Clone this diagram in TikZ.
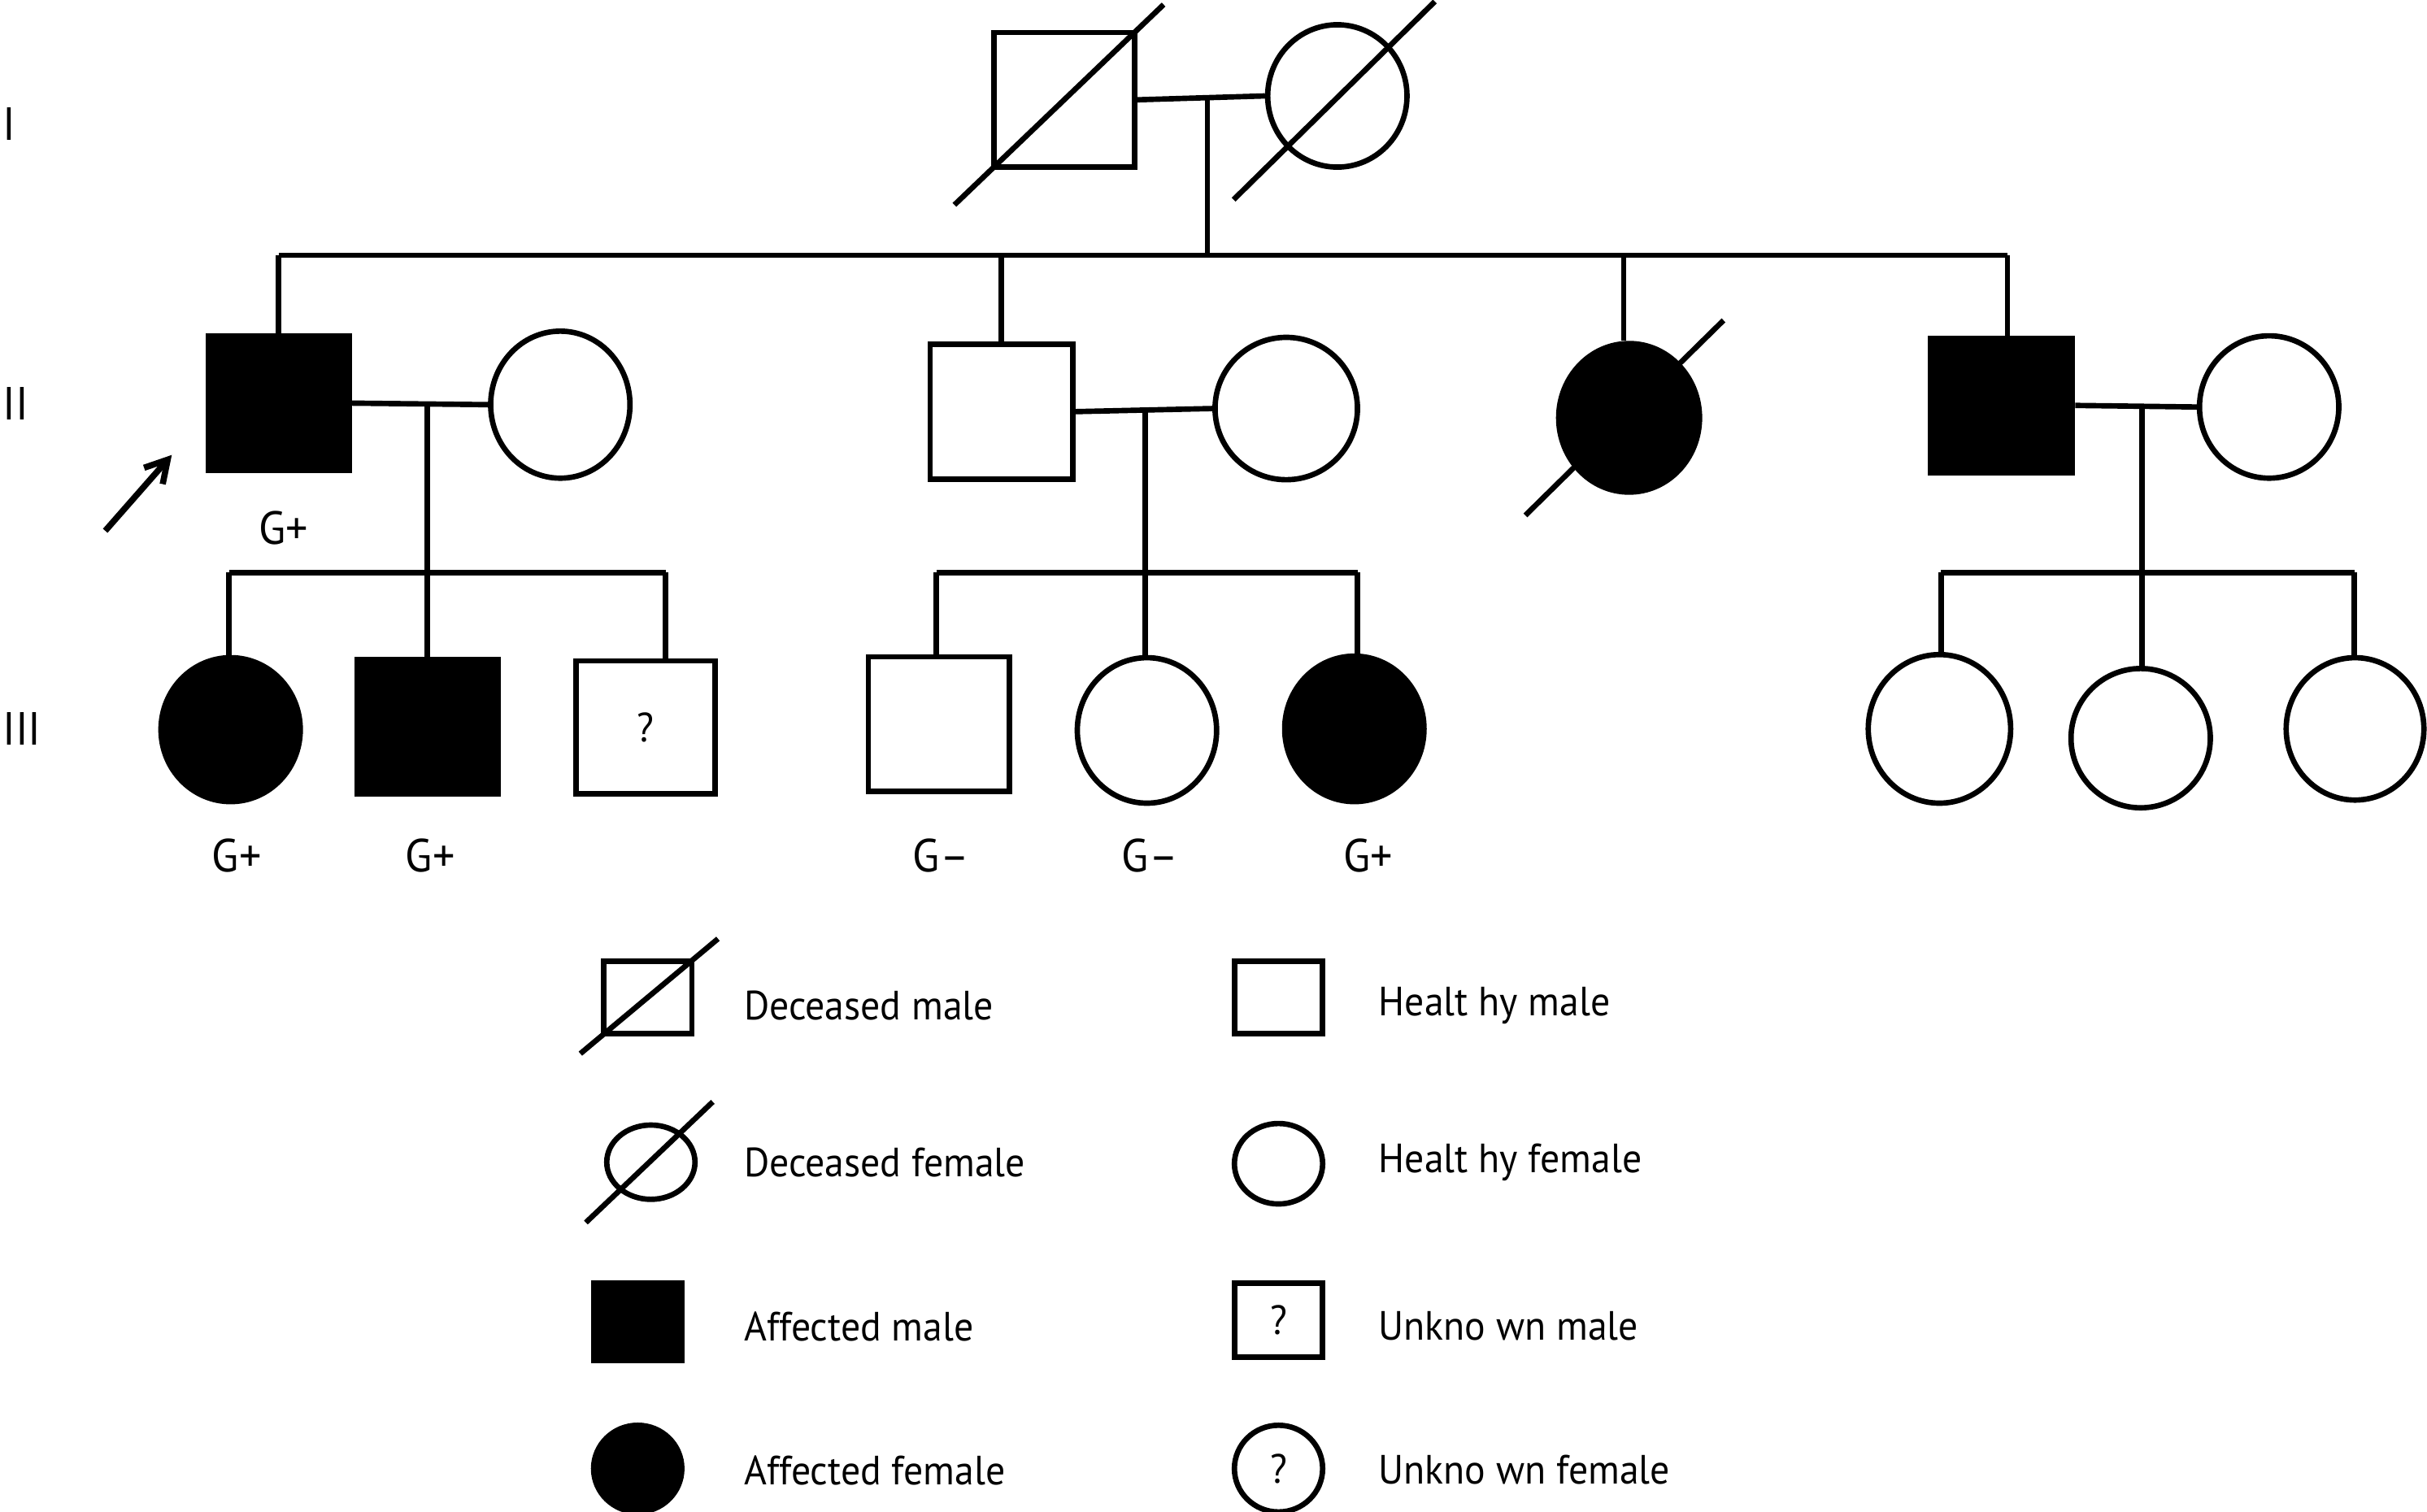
\documentclass[tikz,border=0pt]{standalone}
\usepackage{fontspec}
\setmainfont{PT Sans}[FakeStretch=0.95]
\usetikzlibrary{shapes.geometric,arrows.meta,calc}
\begin{document}
\begin{tikzpicture}[x=0.5pt,y=-0.5pt,line width=1.75pt,
  male/.style={draw,rectangle,minimum width=45.5pt,minimum height=43.5pt,inner sep=0pt},
  female/.style={draw,ellipse,minimum width=45pt,minimum height=46.5pt,inner sep=0pt},
  aff/.style={fill=black},
  lmale/.style={draw,rectangle,minimum width=28.5pt,minimum height=23.5pt,inner sep=0pt},
  lfemale/.style={draw,ellipse,minimum width=28.5pt,minimum height=25pt,inner sep=0pt},
  lbl/.style={font=\fontsize{13.2pt}{15pt}\selectfont,inner sep=0pt},
  glbl/.style={font=\fontsize{15pt}{17pt}\selectfont,inner sep=0pt},
  ltext/.style={lbl,anchor=west},
  gen/.style={font=\fontsize{15pt}{17pt}\selectfont,inner sep=0pt,anchor=west},
  slash/.style={line width=1.75pt}]
\useasboundingbox (0,0) rectangle (1568,977);

% generation labels
\node[gen] (gI) at (0,80) {I};
\node[gen] (gII) at (0,261) {II};
\node[gen] (gIII) at (0,471) {III};

% generation I
\node[male] (I1) at (687.5,64.5) {};
\node[female,minimum height=46pt] (I2) at (864,62) {};
\draw[slash] ($(I1.south west)!-0.25!(I1.north east)$) -- ($(I1.south west)!1.18!(I1.north east)$);
\draw[slash] ($(I2.center)+(-67,67)$) -- ($(I2.center)+(63,-61)$);
\coordinate (m1) at (780,63);
\coordinate (s1) at (780,165);
\coordinate (sL) at (180,165);
\coordinate (sR) at (1297,165);
\coordinate (sB) at (647,165);
\coordinate (sC) at (1049,165);
\draw (I1.east) -- (I2.west);
\draw (m1) -- (s1);
\draw (sL) -- (sR);

% generation II
\node[male,aff] (II1) at (180,260.5) {};
\node[female,minimum height=47.5pt] (II1s) at (362,261.5) {};
\node[male,minimum width=46pt] (II2) at (647,266) {};
\node[female,minimum width=46pt,minimum height=46pt] (II2s) at (831,264) {};
\node[female,aff,minimum width=45.5pt,minimum height=48pt] (II3) at (1052.5,270) {};
\node[male,aff,minimum width=46pt] (II4) at (1293,262) {};
\node[female,minimum height=46pt] (II4s) at (1466,263) {};
\draw[slash] ($(II3.center)+(-67,63)$) -- ($(II3.center)+(61,-63)$);
\draw (sL) -- (II1.north);
\draw (sB) -- (sB |- II2.north);
\draw (sC) -- (sC |- II3.north);
\draw (sR) -- (sR |- II4.north);

\node[glbl] (gp1) at (183,341) {G+};
\coordinate (arrS) at (68,343);
\coordinate (arrE) at (111,294);
\draw[line width=2pt,-{Straight Barb[length=7pt,width=8pt]}] (arrS) -- (arrE);

% family of II1
\draw (II1.east) -- (II1s.west);
\coordinate (a1) at (276,261);
\coordinate (a2) at (276,370);
\coordinate (aL) at (148,370);
\coordinate (aR) at (430,370);
\draw (a1) -- (a2);
\draw (aL) -- (aR);
\node[female,aff] (III1) at (149,471.5) {};
\node[male,aff] (III2) at (276.5,469.5) {};
\node[male,minimum width=45pt,minimum height=43pt] (III3) at (417,470) {};
\node[lbl] (q1) at (III3.center) {?};
\draw (aL) -- (aL |- III1.north);
\draw (a2) -- (a2 |- III2.north);
\draw (aR) -- (aR |- III3.north);
\node[glbl] (gp2) at (153,553) {G+};
\node[glbl] (gp3) at (278,553) {G+};

% family of II2
\draw (II2.east) -- (II2s.west);
\coordinate (b1) at (740,264);
\coordinate (b2) at (740,370);
\coordinate (bL) at (605,370);
\coordinate (bR) at (877,370);
\draw (b1) -- (b2);
\draw (bL) -- (bR);
\node[male] (III4) at (606.5,468) {};
\node[female,minimum height=47pt] (III5) at (741,472) {};
\node[female,aff,minimum height=47pt] (III6) at (875,471) {};
\draw (bL) -- (bL |- III4.north);
\draw (b2) -- (b2 |- III5.north);
\draw (bR) -- (bR |- III6.north);
\node[glbl] (gm1) at (608,553) {G–};
\node[glbl] (gm2) at (743,553) {G–};
\node[glbl] (gp4) at (884,553) {G+};

% family of II4
\draw (II4.east) -- (II4s.west);
\coordinate (c1) at (1384,263);
\coordinate (c2) at (1384,370);
\coordinate (cL) at (1254,370);
\coordinate (cR) at (1521,370);
\draw (c1) -- (c2);
\draw (cL) -- (cR);
\node[female,minimum width=46pt,minimum height=48pt] (III7) at (1253,471) {};
\node[female,minimum height=45pt] (III8) at (1383,477) {};
\node[female,minimum width=44.5pt,minimum height=46pt] (III9) at (1521.5,471) {};
\draw (cL) -- (cL |- III7.north);
\draw (c2) -- (c2 |- III8.north);
\draw (cR) -- (cR |- III9.north);

% legend
\node[lmale] (L1) at (418.5,644.5) {};
\draw[slash] ($(L1.south west)!-0.22!(L1.north east)$) -- ($(L1.south west)!1.25!(L1.north east)$);
\node[ltext] (T1) at (479,650) {Deceased male};
\node[lfemale,minimum height=24pt] (L2) at (420.5,751) {};
\draw[slash] ($(L2.center)+(-42,39)$) -- ($(L2.center)+(40,-39)$);
\node[ltext] (T2) at (479,751) {Deceased female};
\node[lmale,aff,minimum height=25pt] (L3) at (412,854) {};
\node[ltext] (T3) at (479,857) {Affected male};
\node[lfemale,aff,minimum height=28pt] (L4) at (412,949) {};
\node[ltext] (T4) at (479,950) {Affected female};

\node[lmale] (L5) at (826,644.5) {};
\node[ltext] (T5) at (889,650) {Healt hy male};
\node[lfemale,minimum height=26pt] (L6) at (826,752) {};
\node[ltext] (T6) at (889,751) {Healt hy female};
\node[lmale,minimum height=24pt] (L7) at (826,853) {};
\node[lbl] (q2) at (L7.center) {?};
\node[ltext] (T7) at (889,857) {Unkno wn male};
\node[lfemale,minimum height=28pt] (L8) at (826,949) {};
\node[lbl] (q3) at (L8.center) {?};
\node[ltext] (T8) at (889,950) {Unkno wn female};
\end{tikzpicture}
\end{document}
